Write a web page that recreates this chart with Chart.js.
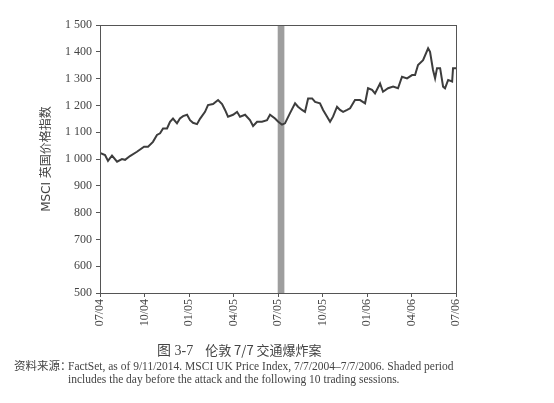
<!DOCTYPE html>
<html lang="zh"><head>
<meta charset="utf-8">
<title>MSCI UK 7/7</title>
<script src="https://cdn.jsdelivr.net/npm/chart.js@4"></script>
<style>
*{box-sizing:border-box;margin:0;padding:0}
body{width:554px;height:403px;background:#fff;position:relative;overflow:hidden;font-family:"Liberation Serif","Noto Sans CJK SC",serif;color:#333}
#wrap{position:absolute;left:0;top:0;width:554px;height:340px}
.caption{position:absolute;left:157px;top:339px;font-size:13px;font-family:"Noto Sans CJK SC",sans-serif;color:#444;white-space:nowrap}
.caption span{margin-right:12px;font-size:14px;font-family:"Liberation Serif","Noto Sans CJK SC",serif}
.src{position:absolute;left:14px;font-size:11.5px;color:#444;white-space:nowrap}
.src b{display:inline-block;width:54px;font-weight:normal;font-family:"Noto Sans CJK SC",sans-serif}
</style></head><body>
<div id="wrap"><canvas id="c"></canvas></div>
<div class="caption"><span>图 3-7</span>伦敦 7/7 交通爆炸案</div>
<div class="src" style="top:357px"><b>资料来源：</b>FactSet, as of 9/11/2014. MSCI UK Price Index, 7/7/2004–7/7/2006. Shaded period</div>
<div class="src" style="top:373px;left:68px">includes the day before the attack and the following 10 trading sessions.</div>
<script>
// months since July 2004
const monthOffsets=[0,0.34,0.54,0.81,1.15,1.48,1.69,2.02,2.49,2.97,3.24,3.57,3.84,4.05,4.25,4.52,4.72,4.92,5.19,5.39,5.6,5.87,6.07,6.27,6.54,6.74,7.08,7.28,7.62,7.96,8.23,8.43,8.63,8.97,9.24,9.44,9.78,10.11,10.32,10.59,10.92,11.26,11.46,11.8,12.0,12.27,12.47,12.81,13.15,13.35,13.62,13.82,14.03,14.3,14.5,14.83,15.04,15.31,15.51,15.71,15.98,16.18,16.39,16.66,16.86,17.19,17.53,17.87,18.07,18.34,18.54,18.88,19.08,19.42,19.76,20.09,20.36,20.7,21.04,21.24,21.44,21.78,22.12,22.25,22.45,22.59,22.72,22.93,23.13,23.26,23.47,23.74,23.8,24];
const indexValues=[1023,1015,993,1013,990,1000,997,1011,1027,1046,1046,1064,1090,1096,1114,1114,1139,1151,1133,1151,1160,1165,1145,1135,1130,1150,1176,1201,1205,1220,1205,1183,1158,1165,1176,1158,1165,1145,1123,1139,1139,1145,1165,1151,1140,1128,1133,1171,1208,1195,1183,1176,1226,1226,1213,1208,1183,1158,1139,1158,1195,1183,1176,1183,1189,1220,1220,1208,1264,1258,1245,1282,1251,1264,1270,1264,1307,1301,1313,1313,1351,1369,1413,1400,1332,1301,1339,1339,1270,1264,1295,1289,1339,1339];
const tickLabels=['07/04','10/04','01/05','04/05','07/05','10/05','01/06','04/06','07/06'];
const shadedPeriod=[11.98,12.43];

const axisColor='#555';
const serif='"Liberation Serif", serif';

const boxAndBand={
  id:'boxAndBand',
  beforeDatasetsDraw(chart){
    const {ctx,chartArea:a,scales:{x}}=chart;
    const x0=x.getPixelForValue(shadedPeriod[0]),x1=x.getPixelForValue(shadedPeriod[1]);
    ctx.save();
    ctx.fillStyle='#9e9e9e';
    ctx.fillRect(x0,a.top,x1-x0,a.bottom-a.top);
    ctx.restore();
  },
  afterDraw(chart){
    const {ctx,chartArea:a}=chart;
    ctx.save();
    ctx.strokeStyle=axisColor;ctx.lineWidth=1;
    ctx.strokeRect(a.left+0.5,a.top+0.5,a.right-a.left,a.bottom-a.top);
    ctx.restore();
  }
};

new Chart(document.getElementById('c'),{
  type:'line',
  data:{datasets:[{
    data:monthOffsets.map((m,i)=>({x:m,y:indexValues[i]})),
    borderColor:'#3d3d3d',borderWidth:2,pointRadius:0,tension:0
  }]},
  options:{
    responsive:true,maintainAspectRatio:false,animation:false,
    layout:{padding:{top:25,right:98,left:0,bottom:0}},
    plugins:{legend:{display:false},tooltip:{enabled:false}},
    scales:{
      x:{type:'linear',min:0,max:24,
        afterFit(s){s.height=47},
        grid:{drawOnChartArea:false,tickLength:4,color:axisColor},
        border:{color:axisColor},
        ticks:{stepSize:3,minRotation:90,maxRotation:90,padding:2,color:'#444',
          font:{family:serif,size:12},
          callback:v=>tickLabels[Math.round(v/3)]}},
      y:{min:500,max:1500,
        afterFit(s){s.width=100},
        grid:{drawOnChartArea:false,tickLength:4,color:axisColor},
        border:{color:axisColor},
        title:{display:true,text:'MSCI 英国价格指数',color:'#444',padding:{top:40,bottom:40},
          font:{family:'"DejaVu Sans","Noto Sans CJK SC",sans-serif',size:12}},
        ticks:{stepSize:100,padding:4,color:'#444',font:{family:serif,size:12},
          callback:v=>v>=1000?Math.floor(v/1000)+' '+String(v%1000).padStart(3,'0'):String(v)}}
    }
  },
  plugins:[boxAndBand]
});
</script></body></html>
